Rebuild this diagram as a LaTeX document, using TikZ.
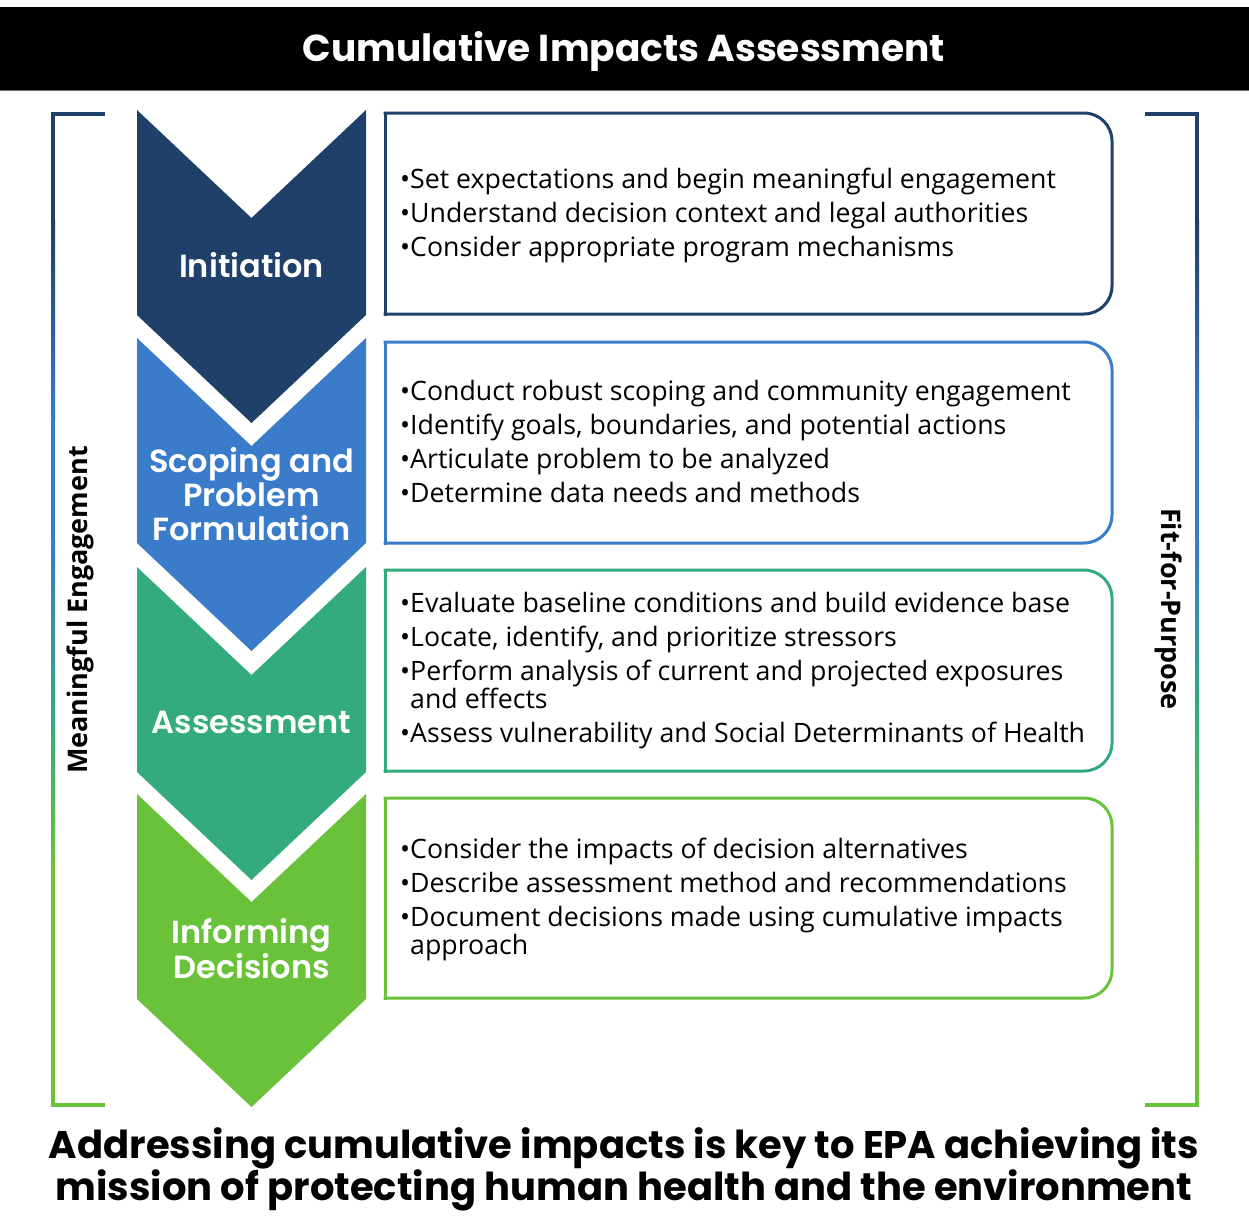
\documentclass[tikz,border=0pt]{standalone}
\usepackage{fontspec}
\setmainfont{Open Sans}
\newfontfamily\pop{Poppins}
\newfontfamily\popsb{Poppins SemiBold}
\definecolor{cnavy}{HTML}{1F4068}
\definecolor{cblue}{HTML}{3A7CC9}
\definecolor{cteal}{HTML}{33AB7D}
\definecolor{cgreen}{HTML}{69C23A}
\tikzset{
  chevlabel/.style={text=white, font=\popsb\fontsize{32}{34}\selectfont, align=center, inner sep=0pt},
  boxtext/.style={anchor=west, align=left, inner sep=0pt, font=\fontsize{26.7}{28}\selectfont},
  boxline/.style={line width=3pt, line cap=rect},
  sidelabel/.style={font=\bfseries\fontsize{27}{30}\selectfont, inner sep=0pt}
}
\newcommand\chevshape[2]{\fill[#1] (137,#2) -- (251.5,#2+108) -- (366,#2) -- (366,#2+205) -- (251.5,#2+313) -- (137,#2+205) -- cycle;}
\newcommand\infobox[3]{%
  \fill[white] (385,#2) rectangle (1112,#3);
  \draw[boxline,#1,rounded corners=28pt] (385,#2) -- (1112,#2) -- (1112,#3) -- (385,#3);
  \draw[boxline,#1] (385,#2) -- (385,#3);}
\begin{document}
\begin{tikzpicture}[x=1pt,y=-1pt]
\useasboundingbox (0,0) rectangle (1249,1216);
\fill[white] (0,0) rectangle (1249,1216);
% header
\fill[black] (0,7) rectangle (1249,90);
\fill[black!55] (0,89.5) rectangle (1249,91);
\node[text=white, font=\pop\bfseries\fontsize{37.5}{40}\selectfont, inner sep=0pt] (title) at (624,51) {Cumulative Impacts Assessment};
% chevrons
\chevshape{cnavy}{110}
\chevshape{cblue}{338}
\chevshape{cteal}{567}
\chevshape{cgreen}{794}
\node[chevlabel] (c1) at (251.5,265) {Initiation};
\node[chevlabel] (c2) at (251.5,494) {Scoping and\\Problem\\Formulation};
\node[chevlabel] (c3) at (251.5,722) {Assessment};
\node[chevlabel, font=\popsb\fontsize{32}{35}\selectfont] (c4) at (251.5,949) {Informing\\Decisions};
% boxes
\infobox{cnavy}{113}{314}
\infobox{cblue}{342}{543}
\infobox{cteal}{570}{771}
\infobox{cgreen}{798}{998}
\node[boxtext] (t1) at (400,215) {•Set expectations and begin meaningful engagement\\[6pt]•Understand decision context and legal authorities\\[6pt]•Consider appropriate program mechanisms};
\node[boxtext] (t2) at (400,441) {•Conduct robust scoping and community engagement\\[6pt]•Identify goals, boundaries, and potential actions\\[6pt]•Articulate problem to be analyzed\\[6pt]•Determine data needs and methods};
\node[boxtext] (t3) at (400,670.5) {•Evaluate baseline conditions and build evidence base\\[6pt]•Locate, identify, and prioritize stressors\\[6pt]•Perform analysis of current and projected exposures\\\hphantom{•}and effects\\[6pt]•Assess vulnerability and Social Determinants of Health};
\node[boxtext] (t4) at (400,899) {•Consider the impacts of decision alternatives\\[6pt]•Describe assessment method and recommendations\\[6pt]•Document decisions made using cumulative impacts\\\hphantom{•}approach};
% left bracket
\fill[cnavy] (51,112) rectangle (105,116);
\fill[cnavy] (51,112) rectangle (55,220);
\shade[top color=cnavy, bottom color=cblue] (51,219.5) rectangle (55,420);
\fill[cblue] (51,419.5) rectangle (55,540);
\shade[top color=cblue, bottom color=cteal] (51,539.5) rectangle (55,720);
\shade[top color=cteal, bottom color=cgreen] (51,719.5) rectangle (55,860);
\fill[cgreen] (51,859.5) rectangle (55,1107);
\fill[cgreen] (51,1103) rectangle (105,1107);
% right bracket
\fill[cnavy] (1145,112) rectangle (1199,116);
\fill[cnavy] (1195,112) rectangle (1199,220);
\shade[top color=cnavy, bottom color=cblue] (1195,219.5) rectangle (1199,420);
\fill[cblue] (1195,419.5) rectangle (1199,540);
\shade[top color=cblue, bottom color=cteal] (1195,539.5) rectangle (1199,720);
\shade[top color=cteal, bottom color=cgreen] (1195,719.5) rectangle (1199,860);
\fill[cgreen] (1195,859.5) rectangle (1199,1107);
\fill[cgreen] (1145,1103) rectangle (1199,1107);
% side labels
\node[sidelabel, rotate=90] (me) at (80,610) {Meaningful Engagement};
\node[sidelabel, rotate=-90] (fp) at (1169,609) {Fit-for-Purpose};
% bottom statement
\node[font=\pop\bfseries\fontsize{38.5}{42}\selectfont, align=center, inner sep=0pt] (bottom) at (624,1169) {Addressing cumulative impacts is key to EPA achieving its\\mission of protecting human health and the environment};
\end{tikzpicture}
\end{document}
